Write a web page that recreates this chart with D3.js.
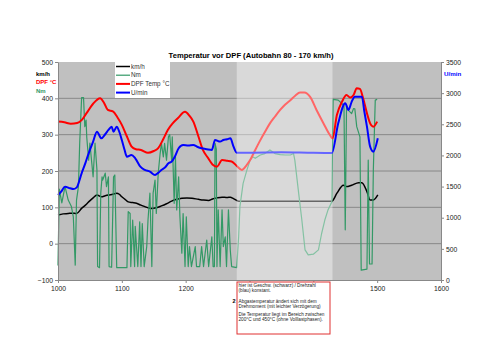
<!DOCTYPE html>
<html>
<head>
<meta charset="utf-8">
<script src="https://cdn.jsdelivr.net/npm/d3@7"></script>
<style>
  body { margin: 0; background: #fff; }
  svg text { font-family: "Liberation Sans", Arial, sans-serif; }
  .axis text { font-size: 6.8px; fill: #222; }
  .axis path, .axis line { stroke: #888; }
</style>
</head>
<body>
<div id="chart"></div>
<script>
// Tick values
const xTicks = [1000, 1100, 1200, 1300, 1400, 1500, 1600];
const leftTicks = [-100, 0, 100, 200, 300, 400, 500];
const rightTicks = [0, 500, 1000, 1500, 2000, 2500, 3000, 3500];

// Zone where speed / rpm are constant
const constBand = [1280, 1430];

// km/h (left axis)
const speed = [[1000,79],[1008,82],[1016,83],[1022,84],[1029,83],[1037,97],[1043,106],[1048,115],[1055,126],[1061,134],[1068,129],[1074,132],[1079,134],[1086,136],[1092,139],[1096,136],[1100,129],[1105,122],[1110,115],[1117,113],[1123,111],[1130,106],[1136,102],[1142,98],[1147,97],[1154,99],[1162,104],[1170,110],[1178,117],[1186,122],[1194,125],[1202,126],[1210,125],[1220,122],[1228,120],[1236,119],[1242,123],[1249,126],[1257,128],[1265,127],[1270,128],[1275,124],[1283,117],[1350,117],[1429,117],[1437,139],[1447,161],[1452,157],[1460,161],[1471,168],[1476,168],[1484,143],[1489,120],[1494,120],[1501,134]];

// Nm (left axis)
const torque = [[1000,-60],[1002,150],[1006,112],[1011,157],[1016,120],[1021,102],[1024,74],[1027,-59],[1029,120],[1032,157],[1034,277],[1037,402],[1040,402],[1042,322],[1044,340],[1045,294],[1048,230],[1050,277],[1052,239],[1055,184],[1058,277],[1061,203],[1062,-63],[1065,-66],[1067,139],[1069,184],[1070,175],[1074,194],[1076,157],[1079,184],[1080,-63],[1084,-65],[1087,184],[1089,189],[1092,-66],[1108,-66],[1110,88],[1113,83],[1114,-63],[1117,65],[1120,-63],[1121,48],[1125,-63],[1128,60],[1130,-63],[1132,55],[1135,-63],[1139,-8],[1141,65],[1144,139],[1147,-63],[1149,139],[1152,175],[1154,83],[1157,194],[1160,248],[1162,276],[1165,239],[1167,276],[1170,230],[1173,294],[1175,300],[1178,230],[1179,294],[1182,111],[1184,239],[1186,93],[1189,184],[1191,74],[1194,-26],[1196,83],[1199,-63],[1201,74],[1204,-63],[1206,-8],[1209,-63],[1215,-8],[1217,-63],[1222,-63],[1225,-8],[1228,-63],[1233,10],[1236,-63],[1241,19],[1243,-63],[1245,-63],[1246,277],[1248,260],[1249,-63],[1251,93],[1254,-63],[1257,93],[1259,-8],[1262,19],[1264,-63],[1267,93],[1270,-20],[1272,-63],[1280,-66],[1283,19],[1285,102],[1290,166],[1296,203],[1301,230],[1305,239],[1309,235],[1317,244],[1324,248],[1332,258],[1340,248],[1348,245],[1356,244],[1364,244],[1369,248],[1371,230],[1377,139],[1382,65],[1387,-17],[1392,-31],[1400,-29],[1408,-17],[1413,28],[1418,65],[1423,93],[1429,115],[1431,397],[1439,395],[1445,385],[1448,380],[1450,38],[1452,380],[1455,367],[1460,358],[1463,372],[1465,371],[1468,322],[1473,294],[1475,-73],[1484,-70],[1486,230],[1488,-56],[1492,-56],[1494,203],[1497,395],[1500,397]];

// DPF Temp °C (left axis)
const dpfTemp = [[1000,336],[1010,334],[1020,330],[1030,332],[1037,340],[1045,360],[1055,385],[1066,400],[1072,388],[1078,368],[1086,364],[1093,348],[1100,327],[1108,295],[1115,268],[1122,260],[1130,258],[1141,250],[1150,255],[1157,263],[1165,288],[1172,313],[1180,332],[1188,346],[1199,363],[1206,352],[1212,336],[1220,295],[1227,258],[1235,236],[1242,218],[1249,212],[1257,230],[1265,228],[1272,226],[1280,214],[1288,203],[1295,215],[1301,230],[1309,258],[1317,285],[1325,310],[1332,331],[1340,350],[1348,368],[1356,383],[1364,395],[1372,408],[1379,416],[1386,416],[1395,404],[1405,368],[1416,331],[1426,299],[1430,290],[1437,355],[1445,391],[1452,409],[1458,402],[1463,409],[1468,428],[1473,426],[1478,400],[1484,359],[1489,331],[1494,322],[1500,336]];

// U/min (right axis)
const rpm = [[1000,1365],[1005,1420],[1011,1499],[1019,1472],[1024,1460],[1029,1483],[1037,1713],[1043,1880],[1048,2034],[1055,2220],[1061,2382],[1068,2275],[1074,2340],[1079,2409],[1084,2462],[1087,2382],[1092,2462],[1096,2380],[1100,2248],[1104,2100],[1108,1980],[1115,2007],[1121,1954],[1129,1820],[1136,1767],[1144,1740],[1152,1686],[1157,1720],[1162,1767],[1168,1810],[1173,1874],[1178,1900],[1183,1980],[1189,2115],[1196,2168],[1204,2160],[1212,2168],[1218,2140],[1225,2115],[1233,2100],[1241,2088],[1246,2248],[1254,2222],[1259,2248],[1265,2260],[1270,2275],[1275,2141],[1280,2045],[1300,2045],[1350,2050],[1400,2042],[1429,2040],[1439,2516],[1450,2837],[1455,2730],[1460,2860],[1465,2944],[1476,2944],[1480,2700],[1484,2462],[1489,2141],[1494,2061],[1501,2275]];

const series = [
  { name: "km/h", data: speed, color: "#000000", width: 1.5, axis: "left" },
  { name: "Nm", data: torque, color: "#339966", width: 1.2, axis: "left" },
  { name: "DPF Temp °C", data: dpfTemp, color: "#ff0000", width: 2, axis: "left" },
  { name: "U/min", data: rpm, color: "#0000ff", width: 2, axis: "right" }
];

const W = 500, H = 353;
const plot = { left: 58, right: 441, top: 62, bottom: 280 };
const noteBox = { x: 237, y: 282, w: 93, h: 52 };

const svg = d3.select("#chart")
  .append("svg")
  .attr("width", W)
  .attr("height", H);

// Scales
const x = d3.scaleLinear().domain([1000, 1600]).range([plot.left, plot.right]);
const yL = d3.scaleLinear().domain([-100, 500]).range([plot.bottom, plot.top]);
const yR = d3.scaleLinear().domain([0, 3500]).range([plot.bottom, plot.top]);

// Plot background
svg.append("rect")
  .attr("x", plot.left).attr("y", plot.top)
  .attr("width", plot.right - plot.left)
  .attr("height", plot.bottom - plot.top)
  .attr("fill", "#c0c0c0");

// Gridlines
svg.append("g")
  .selectAll("line")
  .data(leftTicks.filter(d => d > -100 && d < 500))
  .enter().append("line")
  .attr("x1", plot.left).attr("x2", plot.right)
  .attr("y1", d => yL(d)).attr("y2", d => yL(d))
  .attr("stroke", "#7a7a7a")
  .attr("stroke-width", 0.8);

// Lines
series.forEach(s => {
  const y = s.axis === "left" ? yL : yR;
  const line = d3.line()
    .x(d => x(d[0]))
    .y(d => y(d[1]))
    .curve(s.name === "Nm" ? d3.curveLinear : d3.curveMonotoneX);
  svg.append("path")
    .datum(s.data)
    .attr("fill", "none")
    .attr("stroke", s.color)
    .attr("stroke-width", s.width)
    .attr("stroke-linejoin", "round")
    .attr("d", line);
});

// Light overlay where speed and rpm are constant
svg.append("rect")
  .attr("x", x(constBand[0])).attr("y", plot.top)
  .attr("width", x(constBand[1]) - x(constBand[0]))
  .attr("height", plot.bottom - plot.top)
  .attr("fill", "#ffffff")
  .attr("fill-opacity", 0.4);

// Left axis
svg.append("g")
  .attr("class", "axis")
  .attr("transform", `translate(${plot.left},0)`)
  .call(d3.axisLeft(yL).tickValues(leftTicks).tickFormat(d3.format("d"))
    .tickSize(3).tickPadding(2).tickSizeOuter(0));

// Right axis
svg.append("g")
  .attr("class", "axis")
  .attr("transform", `translate(${plot.right},0)`)
  .call(d3.axisRight(yR).tickValues(rightTicks).tickFormat(d3.format("d"))
    .tickSize(3).tickPadding(2).tickSizeOuter(0));

// X axis (labels under the note box are hidden, as in the original)
const xAxis = svg.append("g")
  .attr("class", "axis")
  .attr("transform", `translate(0,${plot.bottom})`)
  .call(d3.axisBottom(x).tickValues(xTicks).tickFormat(d3.format("d"))
    .tickSize(3).tickPadding(3).tickSizeOuter(0));
xAxis.selectAll(".tick text")
  .filter(d => x(d) > noteBox.x && x(d) < noteBox.x + noteBox.w)
  .remove();

// Title
svg.append("text")
  .attr("x", 251).attr("y", 58)
  .attr("text-anchor", "middle")
  .style("font-size", "7.6px")
  .style("font-weight", "bold")
  .text("Temperatur vor DPF (Autobahn 80 - 170 km/h)");

// Axis titles
const leftTitles = [["km/h", "#000000"], ["DPF °C", "#ff0000"], ["Nm", "#339966"]];
svg.selectAll(".ltitle")
  .data(leftTitles)
  .enter().append("text")
  .attr("class", "ltitle")
  .attr("x", 36)
  .attr("y", (d, i) => 76 + i * 8.3)
  .style("font-size", "6px")
  .style("font-weight", "bold")
  .attr("fill", d => d[1])
  .text(d => d[0]);

svg.append("text")
  .attr("x", 444).attr("y", 76)
  .style("font-size", "6.2px")
  .style("font-weight", "bold")
  .attr("fill", "#0000ff")
  .text("U/min");

// Legend
const legend = svg.append("g").attr("transform", "translate(115,62)");
legend.append("rect")
  .attr("width", 55).attr("height", 36)
  .attr("fill", "#fff");
series.forEach((s, i) => {
  const yy = 4.5 + i * 8.7;
  legend.append("line")
    .attr("x1", 1).attr("x2", 15)
    .attr("y1", yy).attr("y2", yy)
    .attr("stroke", s.color)
    .attr("stroke-width", s.width);
  legend.append("text")
    .attr("x", 16).attr("y", yy + 2.2)
    .style("font-size", "6.3px")
    .attr("fill", "#333")
    .text(s.name);
});

// Annotation
const note = svg.append("g");
note.append("rect")
  .attr("x", noteBox.x).attr("y", noteBox.y)
  .attr("width", noteBox.w).attr("height", noteBox.h)
  .attr("fill", "#fff")
  .attr("stroke", "#e03030")
  .attr("stroke-width", 1);
const noteLines = [
  [287, "hier ist Geschw. (schwarz) / Drehzahl"],
  [292, "(blau) konstant."],
  [302.5, "Abgastemperatur ändert sich mit dem"],
  [307.5, "Drehmoment (mit leichter Verzögerung)"],
  [316, "Die Temperatur liegt im Bereich zwischen"],
  [321, "200°C und 450°C (ohne Volllastphasen)."]
];
note.selectAll(".nl")
  .data(noteLines)
  .enter().append("text")
  .attr("x", 238.5)
  .attr("y", d => d[0])
  .style("font-size", "4.7px")
  .attr("fill", "#222")
  .text(d => d[1]);
note.append("text")
  .attr("x", 232.5).attr("y", 303)
  .style("font-size", "5.5px")
  .style("font-weight", "bold")
  .text("2");
</script>
</body>
</html>
